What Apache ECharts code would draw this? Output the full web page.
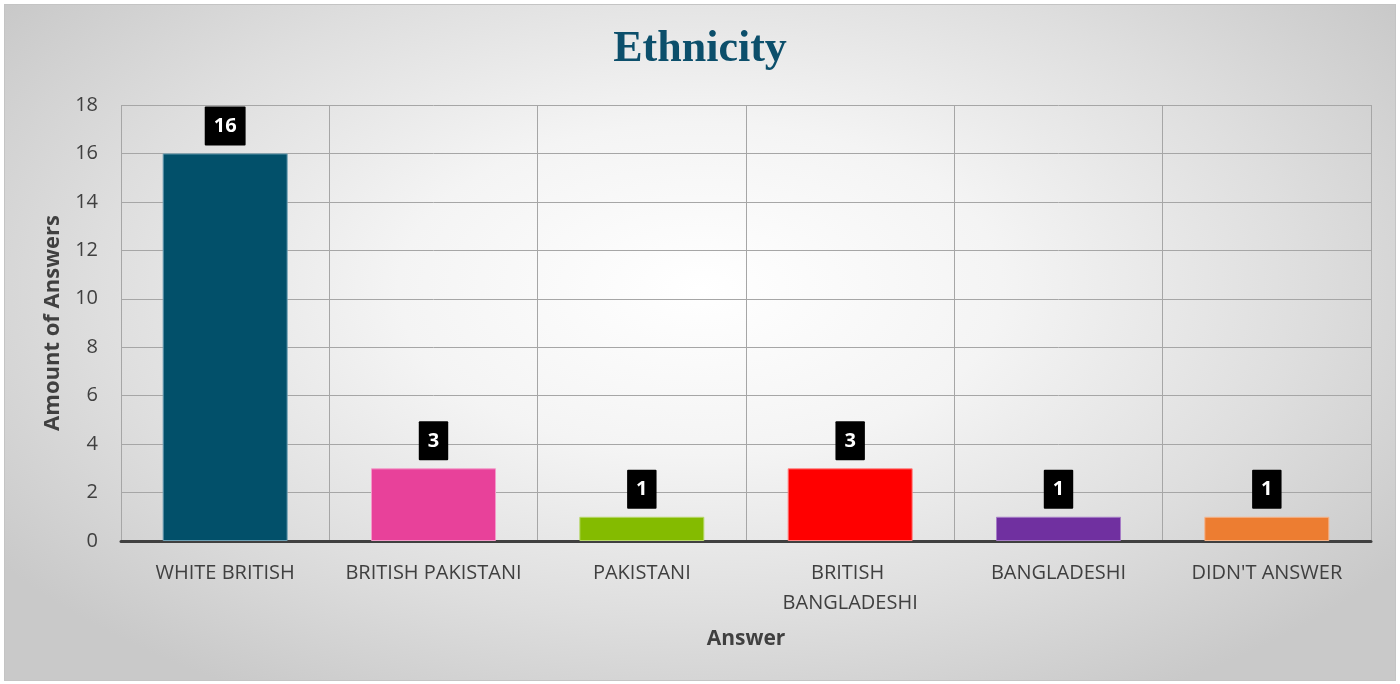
<!DOCTYPE html>
<html>
<head>
<meta charset="utf-8">
<title>Ethnicity</title>
<script src="https://cdn.jsdelivr.net/npm/echarts@6/dist/echarts.min.js"></script>
<style>
  html, body { margin: 0; padding: 0; background: #ffffff; }
  #frame {
    position: absolute; left: 4px; top: 4px; width: 1390px; height: 675px;
    border: 1px solid #c4c4c4;
    background: radial-gradient(ellipse 62% 70% at 50% 42%, #ffffff 0%, #f4f4f4 35%, #dedede 70%, #c9c9c9 100%);
  }
  #chart { width: 1390px; height: 675px; }
</style>
</head>
<body>
<div id="frame"><div id="chart"></div></div>
<script>
// Survey answers: ethnicity of respondents
const categories = ['WHITE BRITISH', 'BRITISH PAKISTANI', 'PAKISTANI', 'BRITISH BANGLADESHI', 'BANGLADESHI', "DIDN'T ANSWER"];
const answerCounts = [16, 3, 1, 3, 1, 1];
const barColors = ['#02506a', '#e8419a', '#84bb00', '#ff0000', '#7030a0', '#ed7d31'];
const barEdges = ['#6c9fb3', '#f39ac9', '#b8d96b', '#ff8080', '#a67cc6', '#f5b48a'];
const yTicks = { min: 0, max: 18, interval: 2 };

const font = '"Open Sans", "Noto Sans", sans-serif';
const chart = echarts.init(document.getElementById('chart'), null, { renderer: 'canvas' });

chart.setOption({
  backgroundColor: 'transparent',
  animation: false,
  title: {
    text: 'Ethnicity',
    left: 'center',
    top: 18,
    textStyle: { fontFamily: '"Liberation Serif", "DejaVu Serif", serif', fontSize: 44, fontWeight: 'bold', color: '#0c4f6b' }
  },
  grid: { left: 116, right: 24, top: 100, bottom: 139, containLabel: false },
  xAxis: {
    type: 'category',
    data: categories,
    name: 'Answer',
    nameLocation: 'middle',
    nameGap: 88,
    nameTextStyle: { fontFamily: font, fontSize: 21, fontWeight: 'bold', color: '#404040' },
    axisLine: { show: true, lineStyle: { color: '#404040', width: 3 } },
    axisTick: { show: false },
    axisLabel: {
      margin: 17, fontFamily: font, fontSize: 20, color: '#404040',
      width: 200, overflow: 'break', lineHeight: 30, interval: 0
    },
    splitLine: { show: true, lineStyle: { color: '#a6a6a6', width: 1 } }
  },
  yAxis: {
    type: 'value',
    min: yTicks.min, max: yTicks.max, interval: yTicks.interval,
    name: 'Amount of Answers',
    nameLocation: 'middle',
    nameGap: 57,
    nameRotate: 90,
    nameTextStyle: { fontFamily: font, fontSize: 22, fontWeight: 'bold', color: '#404040' },
    axisLine: { show: false },
    axisTick: { show: false },
    axisLabel: { margin: 23, fontFamily: font, fontSize: 20, color: '#404040' },
    splitLine: { show: true, lineStyle: { color: '#a6a6a6', width: 1 } }
  },
  series: [{
    type: 'bar',
    barWidth: '60%',
    data: answerCounts.map((v, i) => ({
      value: v,
      itemStyle: { color: barColors[i], borderColor: barEdges[i], borderWidth: 1 }
    })),
    label: {
      show: true,
      position: 'top',
      distance: 8,
      fontFamily: font,
      fontSize: 20,
      fontWeight: 'bold',
      color: '#ffffff',
      backgroundColor: '#000000',
      lineHeight: 21,
      padding: [9, 9, 9, 9],
      borderRadius: 1
    }
  }]
});
</script>
</body>
</html>
